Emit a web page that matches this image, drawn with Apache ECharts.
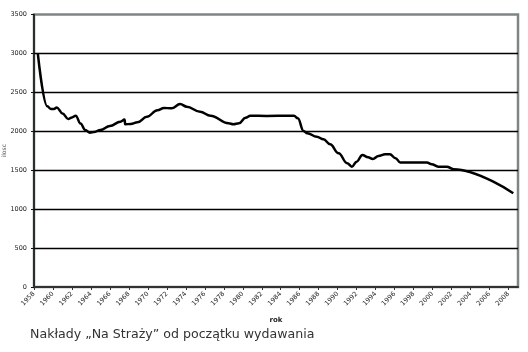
<!DOCTYPE html>
<html>
<head>
<meta charset="utf-8">
<script src="https://cdn.jsdelivr.net/npm/echarts@6/dist/echarts.min.js"></script>
<style>html,body{margin:0;padding:0;background:#fff}#c{width:528px;height:352px}</style>
</head>
<body>
<div id="c"></div>
<script>
const years = [1958.4,1959.4,1959.8,1960.1,1960.4,1961.0,1961.6,1962.0,1962.4,1962.9,1963.4,1963.9,1964.3,1965.0,1966.0,1967.1,1967.55,1967.6,1968.2,1968.9,1969.9,1971.0,1971.7,1972.5,1973.4,1974.1,1975.5,1976.6,1978.5,1979.0,1979.6,1980.3,1980.8,1982.5,1985.0,1985.4,1985.8,1986.4,1986.8,1987.8,1988.5,1989.2,1990.1,1991.0,1991.5,1992.0,1992.6,1993.2,1993.7,1994.3,1995.0,1995.5,1996.1,1996.6,1997.6,1999.4,1999.9,2000.6,2001.5,2002.2,2008.5];
const values = [3000,2320,2285,2286,2305,2230,2158,2178,2200,2100,2017,1982,1990,2017,2068,2123,2150,2090,2094,2115,2187,2270,2300,2295,2350,2315,2251,2200,2102,2090,2102,2175,2200,2196,2200,2198,2167,2004,1974,1931,1897,1833,1718,1590,1546,1610,1696,1667,1645,1683,1705,1705,1654,1598,1598,1598,1577,1546,1546,1513,1205];
const xTitle = 'rok';
const yTitle = 'ilosc';
const caption = 'Nakłady „Na Straży” od początku wydawania';

const chart = echarts.init(document.getElementById('c'), null, {renderer: 'canvas'});
const lab = {fontFamily: 'DejaVu Sans', fontSize: 6.5, color: '#222'};
chart.setOption({
  animation: false,
  backgroundColor: '#fff',
  grid: {left: 34, top: 14.5, right: 10, bottom: 65, containLabel: false, outerBoundsMode: 'none',
    show: true, borderColor: '#7f8585', borderWidth: 2.5, backgroundColor: '#fff'},
  xAxis: {
    type: 'value', min: 1958, max: 2009, interval: 2,
    name: xTitle, nameLocation: 'middle', nameGap: 30, nameMoveOverlap: false,
    nameTextStyle: {fontFamily: 'DejaVu Sans', fontSize: 7, fontWeight: 'bold', color: '#222'},
    axisLine: {lineStyle: {color: '#333', width: 2}},
    axisTick: {show: true, length: 3, lineStyle: {color: '#333'}},
    splitLine: {show: false},
    axisLabel: Object.assign({}, lab, {rotate: 45, margin: 6, showMaxLabel: false,
      formatter: v => (v % 2 === 0 ? String(v) : '')})
  },
  yAxis: {
    type: 'value', min: 0, max: 3500, interval: 500,
    name: yTitle, nameLocation: 'middle', nameGap: 27, nameMoveOverlap: false,
    nameTextStyle: {fontFamily: 'DejaVu Sans', fontSize: 6, color: '#555'},
    axisLine: {show: true, lineStyle: {color: '#111', width: 1.5}},
    axisTick: {show: true, length: 3, lineStyle: {color: '#111'}},
    splitLine: {show: true, showMaxLine: false, showMinLine: false, lineStyle: {color: '#000', width: 1.3}},
    axisLabel: Object.assign({}, lab, {margin: 7, formatter: v => String(v)})
  },
  graphic: [{
    type: 'text', left: 30, top: 328,
    style: {text: caption, fontFamily: 'DejaVu Sans', fontSize: 12.6, fill: '#333'}
  }],
  series: [{
    type: 'line',
    data: years.map((y, i) => [y, values[i]]),
    showSymbol: false,
    smooth: 0.4,
    smoothMonotone: 'x',
    lineStyle: {color: '#000', width: 2.5},
    z: 5
  }]
});
</script>
</body>
</html>
